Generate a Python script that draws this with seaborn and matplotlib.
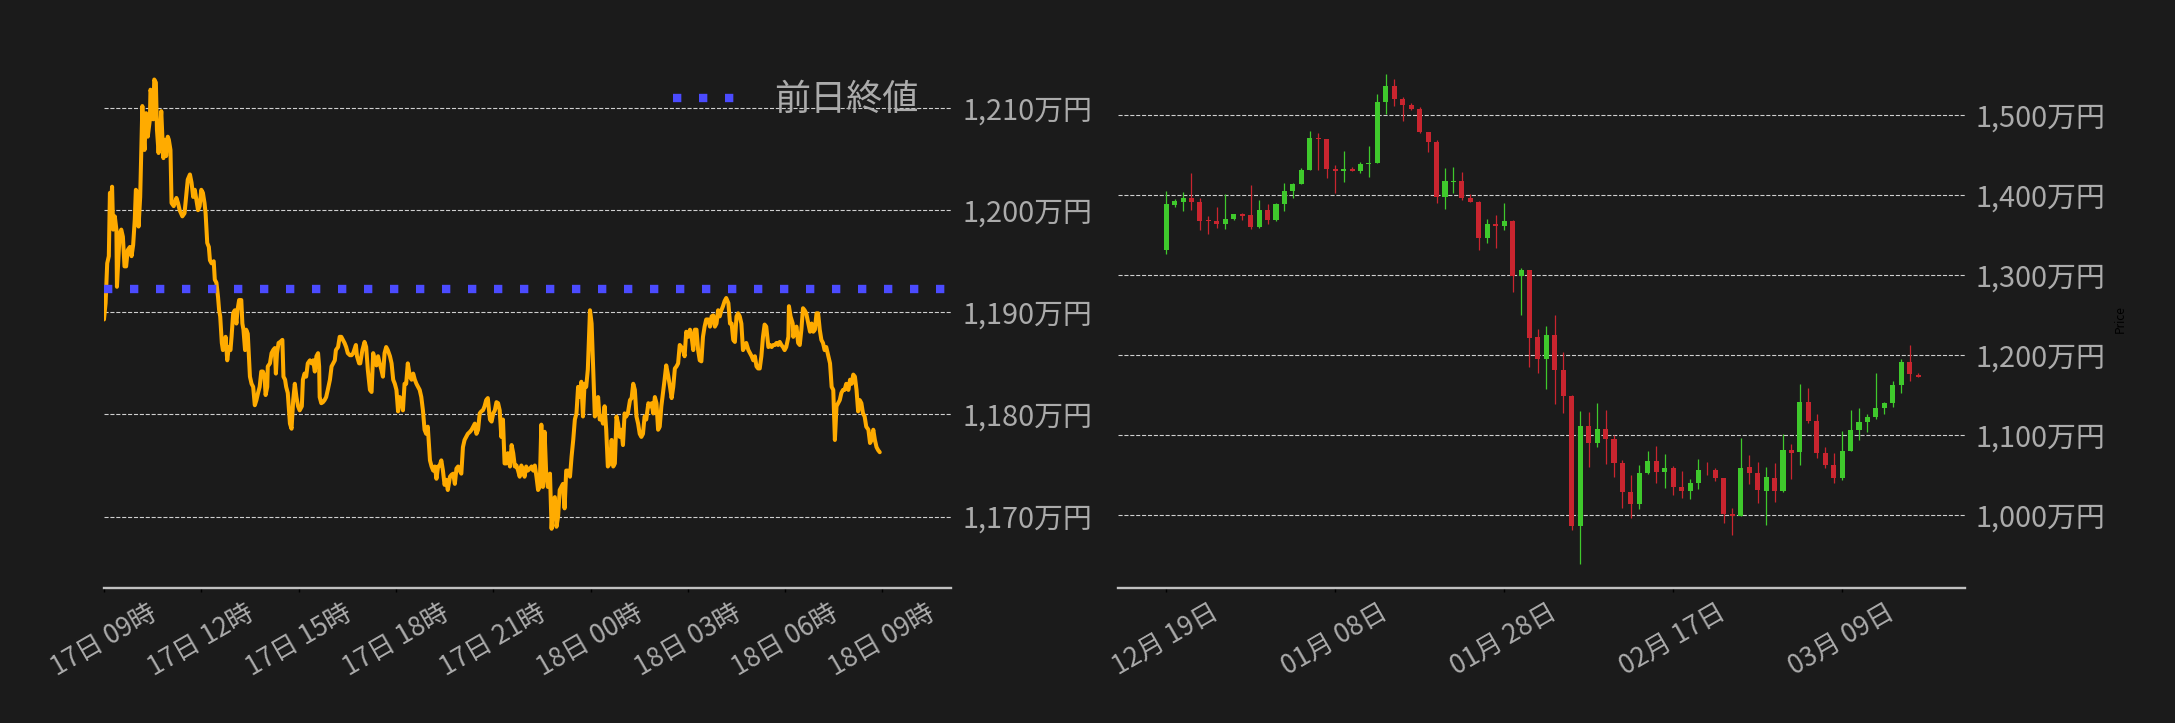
import numpy as np
import pandas as pd
import matplotlib
matplotlib.use("Agg")
import matplotlib.pyplot as plt
import matplotlib.dates as mdates
import matplotlib.ticker as mticker
import seaborn as sns


# DATA

# intraday price (万円), minutes after 17日 09:00
mins_day = [0, 3, 6, 9, 11, 14, 15, 17, 20, 23, 24, 27, 29, 32, 35, 38, 41, 44, 48, 51, 54, 57, 59, 62, 64,
            67, 69, 71, 73, 75, 78, 81, 85, 86, 89, 91, 93, 96, 98, 101, 103, 106, 108, 110, 113, 115, 118,
            120, 123, 125, 129, 134, 137, 140, 145, 149, 152, 155, 159, 162, 165, 168, 171, 174, 177, 180,
            183, 186, 188, 191, 194, 196, 199, 203, 205, 208, 211, 213, 215, 218, 220, 223, 225, 228, 231,
            234, 236, 239, 242, 245, 247, 250, 254, 256, 258, 261, 263, 266, 270, 273, 276, 279, 282, 285,
            288, 291, 294, 297, 299, 302, 303, 307, 310, 313, 316, 318, 320, 323, 326, 330, 332, 335, 337,
            340, 344, 347, 350, 353, 356, 359, 362, 366, 368, 371, 374, 377, 381, 384, 387, 390, 393, 396,
            398, 399, 402, 405, 408, 411, 414, 418, 421, 424, 427, 429, 433, 436, 439, 442, 445, 448, 451,
            455, 458, 461, 466, 468, 472, 474, 478, 482, 485, 488, 492]
price_day = [1189.3, 1190.9, 1194.8, 1195.5, 1201.7, 1201.3, 1202.3, 1198.1, 1199.4, 1198.1, 1192.5, 1195.5,
             1197.7, 1198.1, 1197.4, 1194.5, 1194.5, 1196.1, 1196.4, 1195.5, 1196.6, 1199.1, 1202.0, 1201.7,
             1198.4, 1201.3, 1205.6, 1210.2, 1207.5, 1205.9, 1209.5, 1207.2, 1208.9, 1211.8, 1211.2, 1208.9,
             1212.8, 1212.5, 1207.9, 1205.6, 1207.2, 1209.7, 1207.2, 1205.1, 1206.9, 1205.3, 1207.2, 1206.9,
             1205.9, 1200.7, 1200.4, 1201.2, 1200.7, 1200.0, 1199.4, 1199.7, 1201.3, 1203.0, 1203.5, 1202.7,
             1201.3, 1202.0, 1201.0, 1200.0, 1200.4, 1202.0, 1201.7, 1200.7, 1199.7, 1196.8, 1196.4, 1195.1,
             1194.8, 1195.0, 1193.2, 1192.9, 1191.5, 1190.2, 1189.6, 1187.0, 1186.3, 1186.6, 1187.6, 1185.3,
             1186.6, 1186.3, 1187.6, 1189.9, 1190.2, 1188.9, 1190.2, 1191.2, 1191.2, 1188.9, 1188.3, 1186.3,
             1188.3, 1187.9, 1183.7, 1183.0, 1182.7, 1180.9, 1181.4, 1182.1, 1182.7, 1184.2, 1184.2, 1183.7,
             1181.9, 1182.7, 1184.7, 1185.0, 1186.0, 1186.3, 1186.5, 1184.0, 1186.0, 1187.0, 1187.1, 1187.3,
             1183.7, 1183.4, 1182.7, 1182.1, 1179.1, 1178.6, 1181.4, 1183.0, 1181.7, 1180.8, 1180.4, 1180.8,
             1183.4, 1184.0, 1183.7, 1185.0, 1185.3, 1185.0, 1185.3, 1184.2, 1185.7, 1186.0, 1184.7, 1181.7,
             1181.1, 1181.2, 1181.4, 1181.7, 1182.4, 1183.4, 1184.7, 1185.0, 1185.3, 1186.3, 1186.6, 1187.6,
             1187.6, 1187.3, 1187.0, 1186.6, 1186.0, 1185.8, 1185.8, 1186.0, 1186.8, 1185.7, 1185.0, 1185.0,
             1186.3, 1187.1, 1186.6, 1184.4, 1182.4]

mins_evening = [495, 498, 501, 504, 507, 510, 513, 516, 519, 522, 525, 529, 532, 535, 538, 541, 544, 547, 550,
                553, 556, 559, 562, 566, 569, 572, 575, 578, 581, 584, 587, 590, 593, 596, 599, 603, 606, 609,
                612, 615, 618, 621, 624, 627, 630, 633, 636, 640, 643, 646, 649, 652, 655, 658, 661, 664, 667,
                670, 673, 677, 680, 683, 686, 689, 692, 695, 698, 701, 704, 707, 710, 714, 717, 720, 723, 726,
                729, 732, 735, 738, 741, 744, 747, 751, 754, 757, 760, 763, 766, 769, 772, 775, 778, 781, 784,
                788, 791, 794, 797, 800, 803, 806, 809, 812, 815, 818, 821, 825, 828, 831, 834, 837, 840, 843,
                846, 849, 852, 855, 858, 862, 865, 868, 871, 874, 877, 880, 883, 886, 889, 892, 895, 899, 902,
                905, 908, 911, 914, 917, 920, 923, 926, 929, 932, 936, 939, 942, 945, 948, 951, 954, 957, 960,
                963, 966, 969, 973, 976, 979, 982]
price_evening = [1182.2, 1186.0, 1185.3, 1184.8, 1185.7, 1185.0, 1184.4, 1183.7, 1186.0, 1186.6, 1186.3, 1185.7,
                 1185.0, 1183.4, 1183.0, 1182.4, 1180.3, 1181.7, 1181.4, 1180.4, 1183.0, 1183.0, 1185.0, 1183.7,
                 1183.4, 1184.0, 1183.4, 1183.0, 1182.7, 1182.4, 1181.7, 1180.4, 1178.5, 1178.1, 1178.8, 1175.5,
                 1174.9, 1174.5, 1174.9, 1173.7, 1174.9, 1175.0, 1175.5, 1174.5, 1173.1, 1173.6, 1172.6, 1173.9,
                 1174.1, 1174.2, 1173.2, 1174.7, 1174.9, 1174.5, 1174.2, 1176.8, 1177.5, 1177.8, 1178.1, 1178.3,
                 1178.5, 1178.8, 1179.1, 1178.1, 1178.5, 1180.1, 1180.3, 1180.4, 1180.8, 1181.4, 1181.6, 1179.5,
                 1179.3, 1180.1, 1180.4, 1181.2, 1181.1, 1180.4, 1177.8, 1179.5, 1175.2, 1175.2, 1176.2, 1174.9,
                 1177.0, 1176.2, 1174.9, 1175.0, 1174.5, 1173.9, 1175.0, 1174.5, 1173.9, 1174.9, 1174.5, 1174.7,
                 1174.9, 1174.5, 1175.0, 1173.9, 1172.6, 1172.9, 1179.0, 1172.9, 1178.3, 1174.2, 1172.9, 1174.2,
                 1168.8, 1171.6, 1171.9, 1169.0, 1170.0, 1172.6, 1172.9, 1173.2, 1170.8, 1174.5, 1174.5, 1173.9,
                 1175.9, 1177.5, 1179.5, 1180.1, 1182.7, 1181.7, 1183.2, 1179.8, 1183.0, 1182.7, 1184.4, 1190.2,
                 1188.9, 1184.4, 1179.8, 1180.1, 1181.7, 1179.5, 1179.8, 1179.1, 1180.8, 1178.5, 1174.9, 1175.2,
                 1177.5, 1174.9, 1175.2, 1179.8, 1179.1, 1177.8, 1178.5, 1177.0, 1180.1, 1179.8, 1180.1, 1181.4,
                 1181.6, 1183.0, 1182.4]

mins_night = [985, 988, 991, 994, 997, 1000, 1003, 1007, 1010, 1013, 1016, 1019, 1022, 1025, 1028, 1031, 1034,
              1037, 1040, 1044, 1047, 1050, 1053, 1056, 1059, 1062, 1065, 1068, 1071, 1074, 1077, 1081, 1084,
              1087, 1090, 1093, 1096, 1099, 1102, 1105, 1108, 1111, 1114, 1118, 1121, 1124, 1127, 1130, 1133,
              1136, 1139, 1142, 1145, 1148, 1151, 1155, 1158, 1161, 1164, 1167, 1170, 1173, 1176, 1179, 1182,
              1185, 1188, 1192, 1195, 1198, 1201, 1204, 1207, 1210, 1213, 1216, 1219, 1222, 1225, 1229, 1232,
              1235, 1238, 1241, 1244, 1247, 1250, 1253, 1256, 1259, 1262, 1266, 1267, 1270, 1274, 1275, 1278,
              1281, 1284, 1287, 1290, 1293, 1296, 1299, 1303, 1306, 1309, 1312, 1315, 1318, 1321, 1324, 1327,
              1330, 1333, 1336, 1340, 1343, 1346, 1349, 1352, 1355, 1358, 1361, 1364, 1367, 1370, 1373, 1377,
              1380, 1383, 1386, 1389, 1392, 1395, 1398, 1401, 1404, 1407, 1410, 1414, 1417, 1420, 1423, 1426,
              1429, 1432, 1435]
price_night = [1179.8, 1179.1, 1178.1, 1177.8, 1178.1, 1179.8, 1179.5, 1181.1, 1180.8, 1181.1, 1180.1, 1181.7,
               1181.1, 1178.5, 1178.8, 1180.8, 1182.1, 1183.4, 1184.8, 1183.7, 1182.7, 1181.6, 1182.7, 1184.5,
               1184.7, 1185.0, 1186.8, 1186.6, 1186.3, 1185.7, 1188.1, 1187.6, 1188.3, 1187.6, 1186.3, 1188.3,
               1188.3, 1186.3, 1185.3, 1185.2, 1187.6, 1188.6, 1189.3, 1189.3, 1188.6, 1189.6, 1189.7, 1188.6,
               1188.9, 1190.2, 1189.6, 1190.2, 1190.6, 1191.1, 1191.4, 1190.9, 1188.9, 1188.9, 1187.3, 1187.1,
               1189.6, 1189.9, 1189.6, 1188.9, 1186.3, 1186.6, 1187.0, 1186.3, 1186.0, 1185.7, 1185.3, 1185.7,
               1184.7, 1184.5, 1184.5, 1185.7, 1187.6, 1188.8, 1188.6, 1186.6, 1186.8, 1186.6, 1186.8, 1186.8,
               1187.0, 1186.8, 1187.1, 1186.8, 1186.6, 1186.3, 1186.6, 1187.6, 1190.6, 1189.6, 1188.9, 1187.6,
               1188.3, 1188.6, 1187.0, 1186.8, 1188.3, 1190.4, 1190.2, 1189.9, 1188.9, 1188.1, 1188.9, 1188.1,
               1188.3, 1189.9, 1189.9, 1188.3, 1187.3, 1187.0, 1186.3, 1186.6, 1185.7, 1185.0, 1182.7, 1182.4,
               1177.5, 1180.8, 1181.1, 1181.4, 1182.1, 1182.4, 1182.4, 1183.0, 1182.4, 1183.4, 1183.0, 1183.9,
               1183.7, 1182.4, 1180.3, 1181.4, 1181.1, 1180.1, 1179.8, 1178.8, 1178.5, 1177.2, 1177.5, 1178.5,
               1177.5, 1176.8, 1176.5, 1176.3]

prev_close = 1192.3
day_start = "2025-03-17 09:00"

# daily candles (万円), first day 12/19
candle_start = "2024-12-19"
candle_open = [1330.8, 1387.9, 1391.7, 1396.7, 1391.7, 1368.3, 1367.9, 1363.3, 1369.6, 1376.7,
               1375.4, 1360.4, 1381.7, 1368.3, 1388.3, 1404.6, 1413.3, 1430.8, 1471.7, 1470.4,
               1432.9, 1429.6, 1432.9, 1429.6, 1438.3, 1439.6, 1515.8, 1536.7, 1520.4, 1512.9,
               1507.9, 1479.2, 1466.7, 1397.1, 1416.7, 1417.9, 1396.7, 1391.7, 1345.8, 1364.2,
               1360.8, 1367.9, 1298.3, 1306.7, 1222.9, 1194.6, 1225.4, 1181.7, 1149.2, 985.8,
               1111.7, 1089.6, 1107.9, 1095.4, 1065.4, 1029.2, 1013.3, 1052.1, 1067.9, 1053.3,
               1059.2, 1035.4, 1029.6, 1039.6, 1056.7, 1056.7, 1046.7, 1001.7, 998.3, 1060.4,
               1052.9, 1029.6, 1046.7, 1029.6, 1081.7, 1078.3, 1141.7, 1117.9, 1077.9, 1062.9,
               1045.8, 1079.6, 1105.8, 1115.8, 1122.1, 1133.3, 1139.6, 1162.1, 1191.7, 1175.4]
candle_high = [1404.6, 1394.6, 1403.3, 1427.9, 1395.8, 1373.7, 1385.0, 1400.8, 1376.7, 1377.5,
               1412.5, 1393.8, 1388.8, 1390.0, 1415.0, 1415.0, 1433.3, 1480.0, 1477.5, 1470.4,
               1437.9, 1455.0, 1435.4, 1441.2, 1461.2, 1526.2, 1551.7, 1545.4, 1522.9, 1515.0,
               1510.0, 1479.2, 1468.8, 1433.8, 1435.4, 1429.2, 1400.8, 1392.9, 1370.0, 1375.4,
               1389.6, 1369.2, 1308.8, 1306.7, 1232.9, 1236.2, 1250.4, 1204.2, 1150.4, 1130.0,
               1129.2, 1140.0, 1131.7, 1099.6, 1068.8, 1050.4, 1062.5, 1080.0, 1086.7, 1076.2,
               1061.7, 1055.4, 1045.0, 1070.0, 1066.7, 1059.2, 1046.7, 1008.8, 1096.2, 1075.0,
               1066.7, 1060.0, 1065.0, 1101.2, 1089.2, 1163.8, 1159.2, 1126.7, 1084.6, 1077.9,
               1105.4, 1131.2, 1134.2, 1126.7, 1177.5, 1141.7, 1167.9, 1195.0, 1212.9, 1177.5]
candle_low = [1326.2, 1385.0, 1380.0, 1380.8, 1355.8, 1350.8, 1358.3, 1357.1, 1368.3, 1368.3,
              1357.1, 1358.7, 1363.3, 1367.9, 1380.0, 1396.2, 1413.3, 1430.8, 1431.2, 1420.8,
              1402.1, 1416.2, 1429.6, 1427.1, 1422.5, 1439.6, 1501.7, 1510.8, 1492.1, 1505.8,
              1477.1, 1453.3, 1389.6, 1382.5, 1402.9, 1393.8, 1390.8, 1331.2, 1340.0, 1333.8,
              1356.2, 1278.3, 1250.0, 1185.0, 1177.1, 1157.9, 1138.8, 1127.1, 980.8, 938.8,
              1060.0, 1085.0, 1063.8, 1047.5, 1008.8, 996.3, 1007.9, 1050.8, 1040.0, 1034.2,
              1025.0, 1021.2, 1020.0, 1032.9, 1050.0, 1042.5, 990.0, 975.0, 998.3, 1038.8,
              1015.0, 987.5, 1016.2, 1028.8, 1044.6, 1062.9, 1115.0, 1071.2, 1058.3, 1039.6,
              1043.3, 1079.6, 1094.2, 1103.3, 1120.4, 1126.7, 1135.4, 1152.5, 1167.5, 1172.1]
candle_close = [1389.2, 1392.9, 1396.7, 1390.8, 1367.1, 1367.1, 1363.3, 1370.4, 1376.7, 1374.2,
                1360.4, 1381.7, 1368.3, 1389.2, 1405.4, 1414.2, 1431.7, 1471.7, 1469.6, 1432.1,
                1429.6, 1432.9, 1429.6, 1439.2, 1440.4, 1516.7, 1536.7, 1519.6, 1512.1, 1507.1,
                1478.3, 1465.8, 1397.1, 1417.9, 1417.9, 1395.8, 1390.8, 1345.8, 1364.2, 1360.8,
                1367.9, 1298.8, 1306.7, 1220.8, 1194.6, 1225.4, 1180.8, 1148.3, 985.8, 1111.7,
                1089.6, 1107.9, 1094.6, 1064.6, 1028.3, 1013.3, 1052.9, 1067.9, 1053.3, 1059.2,
                1034.6, 1029.6, 1040.4, 1056.7, 1055.8, 1045.8, 1000.8, 998.8, 1059.2, 1052.1,
                1030.8, 1047.9, 1029.6, 1081.7, 1077.1, 1141.7, 1117.1, 1077.1, 1062.1, 1045.8,
                1080.4, 1106.7, 1116.7, 1122.9, 1134.2, 1140.4, 1162.9, 1191.7, 1175.8, 1172.1]

intraday_ticks = [1170, 1180, 1190, 1200, 1210]
daily_ticks = [1000, 1100, 1200, 1300, 1400, 1500]


# STYLE

BG = "#1b1b1b"
TXT = "#ababab"
GRID = "#cfcfcf"
LINE = "#ffab00"
DOTS = "#4b4bff"
UP = "#3fc92c"
DOWN = "#c9252f"

sns.set_theme(style="dark", rc={
    "figure.facecolor": BG,
    "axes.facecolor": BG,
    "savefig.facecolor": BG,
    "text.color": TXT,
})
plt.rcParams["font.family"] = ["Noto Sans CJK JP", "DejaVu Sans"]


def man_yen(v, pos=None):
    return f"{int(round(v)):,}万円"


def style_axis(ax, ypad):
    for side in ["top", "left", "right"]:
        ax.spines[side].set_visible(False)
    ax.spines["bottom"].set_color("#c0c0c0")
    ax.spines["bottom"].set_linewidth(1.7)
    ax.yaxis.tick_right()
    ax.grid(axis="y", linestyle="--", color=GRID, linewidth=0.8)
    ax.grid(axis="x", visible=False)
    ax.tick_params(axis="x", bottom=True, length=3, width=1, color="#000000",
                   labelcolor=TXT, labelsize=19, labelrotation=30, pad=5)
    ax.tick_params(axis="y", right=True, length=0, labelcolor=TXT, labelsize=20.8, pad=ypad)
    ax.yaxis.set_major_formatter(mticker.FuncFormatter(man_yen))


fig = plt.figure(figsize=(21.75, 7.23), dpi=100)
ax1 = fig.add_axes([0.0478, 0.1867, 0.3894, 0.7443])
ax2 = fig.add_axes([0.5139, 0.1867, 0.3897, 0.7443])


# 1) intraday line

t0 = pd.Timestamp(day_start)
intraday = pd.DataFrame({
    "time": t0 + pd.to_timedelta(mins_day + mins_evening + mins_night, unit="min"),
    "price": price_day + price_evening + price_night,
})

sns.lineplot(data=intraday, x="time", y="price", ax=ax1, color=LINE, linewidth=2.9)
ax1.axhline(prev_close, color=DOTS, linewidth=6, dashes=(1, 2.12), label="前日終値")

ax1.set(xlabel="", ylabel="")
ax1.set_xlim(t0, t0 + pd.Timedelta(hours=26.11))
ax1.set_ylim(1163.0, 1215.7)
ax1.set_yticks(intraday_ticks)
style_axis(ax1, ypad=8)
ax1.xaxis.set_major_locator(mdates.HourLocator(byhour=range(0, 24, 3)))
ax1.xaxis.set_major_formatter(mdates.DateFormatter("%d日 %H時"))
for lab in ax1.get_xticklabels():
    lab.set_horizontalalignment("center")

ax1.legend(loc="upper right", frameon=False, fontsize=26, labelcolor=TXT)


# 2) daily candles

days = pd.date_range(candle_start, periods=len(candle_open), freq="D")
candles = pd.DataFrame({
    "open": candle_open, "high": candle_high,
    "low": candle_low, "close": candle_close,
})
candles["idx"] = np.arange(len(candles))
candles["color"] = np.where(candles["close"] >= candles["open"], UP, DOWN)
candles["body"] = (candles["close"] - candles["open"]).abs()
candles["base"] = candles[["open", "close"]].min(axis=1)

ax2.vlines(candles["idx"], candles["low"], candles["high"], colors=candles["color"], linewidth=0.9)
ax2.bar(candles["idx"], candles["body"], bottom=candles["base"], width=0.6,
        color=candles["color"], linewidth=0)

ax2.set_xlim(-5.73, 94.58)
ax2.set_ylim(908.6, 1581.5)
ax2.set_yticks(daily_ticks)
style_axis(ax2, ypad=7.5)
tick_idx = list(range(0, len(days), 20))
ax2.set_xticks(tick_idx)
ax2.set_xticklabels([days[i].strftime("%m月 %d日") for i in tick_idx], ha="center")
ax2.yaxis.set_label_position("right")
ax2.set_ylabel("Price", color="#000000", fontsize=8.5, labelpad=6)

fig.savefig("out.png", dpi=100)
